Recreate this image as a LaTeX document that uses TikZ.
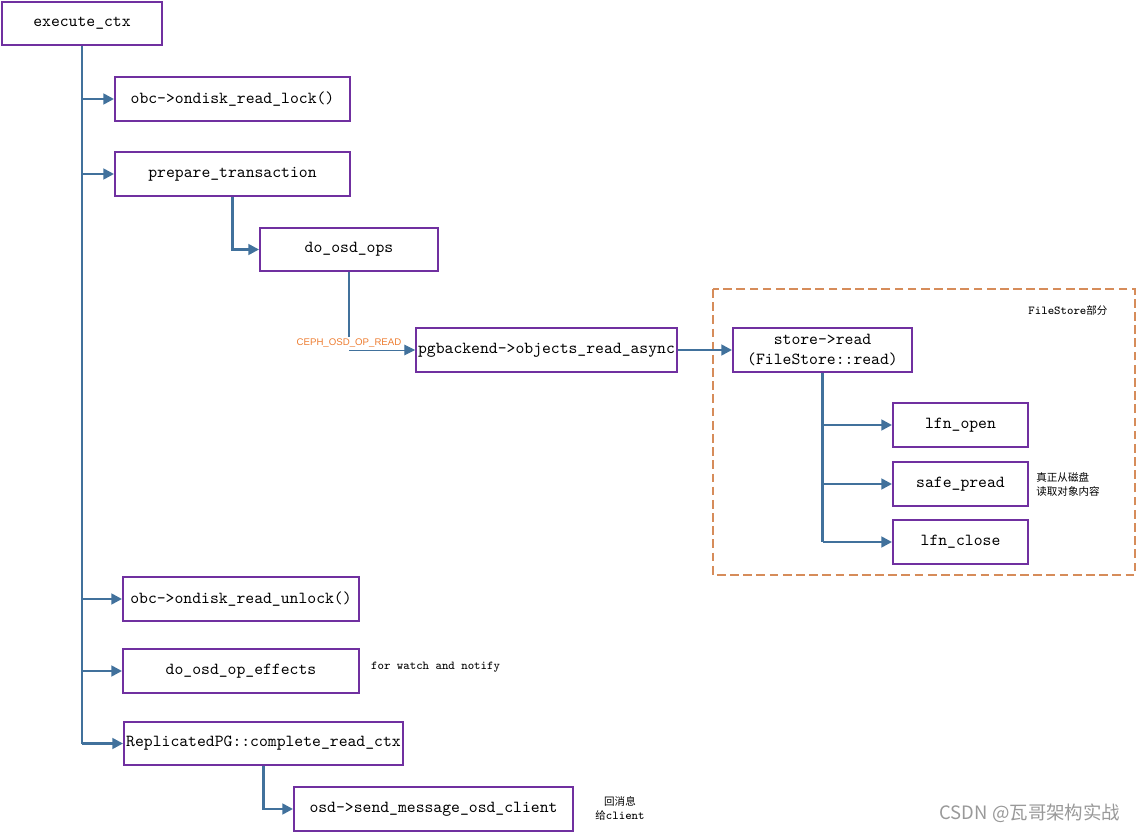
\documentclass[tikz,border=0pt]{standalone}
\usepackage{fontspec}
\setmainfont{Liberation Sans}
\newfontfamily\cjk{Noto Sans CJK SC}
\usetikzlibrary{arrows.meta}
\definecolor{boxpurple}{RGB}{112,48,160}
\definecolor{linkblue}{RGB}{65,113,156}
\definecolor{fsorange}{RGB}{214,140,90}
\definecolor{labelorange}{RGB}{237,125,49}
\tikzset{
  callbox/.style={draw=boxpurple, line width=1.1pt, minimum height=0.87cm, inner sep=0pt, font=\ttfamily\fontsize{9.6}{11}\selectfont, align=center},
  trunk/.style={draw=linkblue, line width=1.4pt},
  callarrow/.style={trunk, -{Triangle[length=6pt,width=6pt]}},
  note/.style={font=\ttfamily\fontsize{6.9}{8}\selectfont, align=left}
}
\begin{document}
\begin{tikzpicture}
        \useasboundingbox (0,0) rectangle (22.82,-16.66);
        %% the calls made by execute_ctx, top to bottom
        \node[callbox, minimum width=3.2cm] (exec) at (1.64,-0.47) {execute\_ctx};
        \node[callbox, minimum width=4.7cm] (lock) at (4.65,-1.98) {obc->ondisk\_read\_lock()};
        \node[callbox, minimum width=4.7cm] (prep) at (4.65,-3.48) {prepare\_transaction};
        \node[callbox, minimum width=3.56cm] (doops) at (6.98,-4.99) {do\_osd\_ops};
        \node[callbox, minimum width=5.22cm] (pg) at (10.93,-7.0) {pgbackend->objects\_read\_async};
        \node[callbox, minimum width=4.72cm] (unlock) at (4.82,-11.98) {obc->ondisk\_read\_unlock()};
        \node[callbox, minimum width=4.72cm] (effects) at (4.82,-13.42) {do\_osd\_op\_effects};
        \node[callbox, minimum width=5.58cm] (complete) at (5.27,-14.87) {ReplicatedPG::complete\_read\_ctx};
        \node[callbox, minimum width=5.58cm] (osd) at (8.67,-16.18) {osd->send\_message\_osd\_client};
        %% FileStore part, inside the dashed box
        \draw[fsorange, line width=1pt, dash pattern=on 5pt off 2.5pt] (14.26,-5.78) rectangle (22.7,-11.5);
        \node[note] (fslabel) at (21.36,-6.2) {FileStore{\cjk\fontsize{6}{7.5}\selectfont 部分}};
        \node[callbox, minimum width=3.58cm] (store) at (16.45,-7.0) {store->read\\(FileStore::read)};
        \node[callbox, minimum width=2.7cm] (open) at (19.21,-8.5) {lfn\_open};
        \node[callbox, minimum width=2.7cm] (pread) at (19.21,-9.68) {safe\_pread};
        \node[callbox, minimum width=2.7cm] (close) at (19.21,-10.84) {lfn\_close};
        %% side notes
        \node[note, font=\cjk\fontsize{6}{8}\selectfont] (preadnote) at (21.36,-9.68) {真正从磁盘\\读取对象内容};
        \node[note, anchor=west] (effnote) at (7.3,-13.34) {for watch and notify};
        \node[note, align=center] (replynote) at (12.4,-16.16) {{\cjk\fontsize{6}{8}\selectfont 回消息}\\{\cjk\fontsize{6}{8}\selectfont 给}client};
        \node[font=\cjk\fontsize{10.5}{12}\selectfont, text=black!40] (mark) at (20.6,-16.26) {CSDN @瓦哥架构实战};
        %% connectors
        \draw[trunk] (exec.south) -- (exec.south |- complete.west);
        \draw[callarrow] (exec.south |- lock.west) -- (lock.west);
        \draw[callarrow] (exec.south |- prep.west) -- (prep.west);
        \draw[callarrow] (exec.south |- unlock.west) -- (unlock.west);
        \draw[callarrow] (exec.south |- effects.west) -- (effects.west);
        \draw[callarrow] (exec.south |- complete.west) -- (complete.west);
        \draw[callarrow] (prep.south) |- (doops.west);
        \draw[trunk] (doops.south) -- ([yshift=0.26cm]doops.south |- pg.west);
        \draw[linkblue, line width=0.5pt, -{Triangle[length=6pt,width=6pt]}] (doops.south |- pg.west) -- (pg.west);
        \node[font=\fontsize{5.5}{6}\selectfont, text=labelorange] (oplabel) at ([yshift=0.14cm]doops.south |- pg.west) {CEPH\_OSD\_OP\_READ};
        \draw[callarrow] (pg.east) -- (store.west);
        \draw[trunk] (store.south) -- (store.south |- close.west);
        \draw[callarrow] (store.south |- open.west) -- (open.west);
        \draw[callarrow] (store.south |- pread.west) -- (pread.west);
        \draw[callarrow] (store.south |- close.west) -- (close.west);
        \draw[callarrow] (complete.south) |- (osd.west);
\end{tikzpicture}
\end{document}
